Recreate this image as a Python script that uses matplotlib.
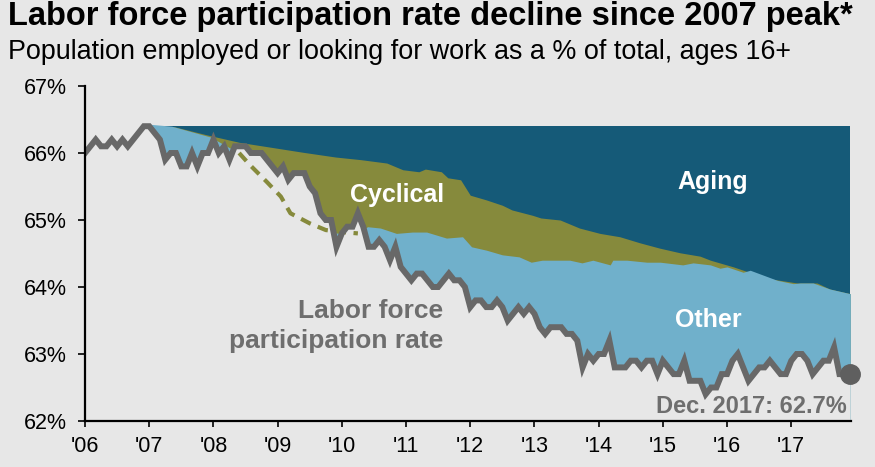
import numpy as np
import matplotlib
matplotlib.use("Agg")
import matplotlib.pyplot as plt

plt.rcParams['font.family'] = ['Liberation Sans', 'DejaVu Sans']

# Monthly labor force participation rate, Jan 2006 - Dec 2017 (%)
lfpr = [
    66.0, 66.1, 66.2, 66.1, 66.1, 66.2, 66.1, 66.2, 66.1, 66.2, 66.3, 66.4,  # 2006
    66.4, 66.3, 66.2, 65.9, 66.0, 66.0, 65.8, 65.8, 66.0, 65.8, 66.0, 66.0,  # 2007
    66.2, 66.0, 66.1, 65.9, 66.1, 66.1, 66.1, 66.0, 66.0, 66.0, 65.9, 65.8,  # 2008
    65.7, 65.8, 65.6, 65.7, 65.7, 65.7, 65.5, 65.4, 65.1, 65.0, 65.0, 64.6,  # 2009
    64.8, 64.9, 64.9, 65.1, 64.9, 64.6, 64.6, 64.7, 64.6, 64.4, 64.6, 64.3,  # 2010
    64.2, 64.1, 64.2, 64.2, 64.1, 64.0, 64.0, 64.1, 64.2, 64.1, 64.1, 64.0,  # 2011
    63.7, 63.8, 63.8, 63.7, 63.7, 63.8, 63.7, 63.5, 63.6, 63.7, 63.6, 63.7,  # 2012
    63.6, 63.4, 63.3, 63.4, 63.4, 63.4, 63.3, 63.3, 63.2, 62.8, 63.0, 62.9,  # 2013
    63.0, 63.0, 63.2, 62.8, 62.8, 62.8, 62.9, 62.9, 62.8, 62.9, 62.9, 62.7,  # 2014
    62.9, 62.8, 62.7, 62.7, 62.9, 62.6, 62.6, 62.6, 62.4, 62.5, 62.5, 62.7,  # 2015
    62.7, 62.9, 63.0, 62.8, 62.6, 62.7, 62.8, 62.8, 62.9, 62.8, 62.7, 62.7,  # 2016
    62.9, 63.0, 63.0, 62.9, 62.7, 62.8, 62.9, 62.9, 63.1, 62.7, 62.7, 62.7,  # 2017
]
start_year = 2006
peak = 66.4

# Rate with only the aging effect removed from the 2007 peak
aging_dates = [2007.0, 2007.4, 2007.9, 2008.4, 2009.0, 2009.4, 2009.9, 2010.3,
               2010.7, 2010.95, 2011.2, 2011.3, 2011.55, 2011.65, 2011.85, 2012.0,
               2012.25, 2012.5, 2012.65, 2012.97, 2013.1, 2013.4, 2013.7, 2014.02,
               2014.33, 2014.64, 2014.95, 2015.27, 2015.58, 2015.74, 2016.1, 2016.62,
               2017.09, 2017.4, 2017.6, 2017.92]
aging = [66.4, 66.39, 66.27, 66.16, 66.07, 66.01, 65.94, 65.9,
         65.85, 65.75, 65.72, 65.76, 65.72, 65.63, 65.6, 65.37,
         65.3, 65.22, 65.15, 65.07, 65.03, 65.0, 64.88, 64.8,
         64.75, 64.66, 64.58, 64.51, 64.46, 64.4, 64.3, 64.13,
         64.06, 64.06, 63.97, 63.9]

# Rate with aging and cyclical effects removed
cyc_dates = [2007.0, 2007.35, 2007.95, 2008.23, 2008.4, 2008.57, 2008.83, 2009.05,
             2009.2, 2009.5, 2009.75, 2010.0, 2010.25, 2010.4, 2010.6, 2010.85,
             2011.1, 2011.32, 2011.63, 2011.88, 2012.02, 2012.25, 2012.5, 2012.76,
             2012.95, 2013.12, 2013.55, 2013.74, 2013.91, 2014.18, 2014.22, 2014.44,
             2014.75, 2014.96, 2015.31, 2015.47, 2015.74, 2015.89, 2016.0, 2016.25,
             2016.36, 2016.78, 2017.03, 2017.14, 2017.34, 2017.6, 2017.92]
cyc = [66.43, 66.4, 66.24, 66.09, 66.0, 65.82, 65.57, 65.35,
       65.1, 64.95, 64.85, 64.82, 64.8, 64.9, 64.88, 64.8,
       64.82, 64.82, 64.73, 64.75, 64.6, 64.55, 64.48, 64.45,
       64.37, 64.4, 64.4, 64.36, 64.4, 64.33, 64.4, 64.4,
       64.37, 64.37, 64.33, 64.36, 64.33, 64.28, 64.3, 64.22,
       64.25, 64.1, 64.05, 64.06, 64.06, 63.97, 63.9]

years = list(range(2006, 2018))
year_labels = ["'%02d" % (y % 100) for y in years]
pct_ticks = [62, 63, 64, 65, 66, 67]

bg = '#e7e7e7'
dark_blue = '#155a78'
olive = '#868a3c'
light_blue = '#70b0cb'
line_gray = '#686868'
label_gray = '#6e6e6e'

dates = start_year + np.arange(len(lfpr)) / 12
aging_dates = np.array(aging_dates)
cyc_dates = np.array(cyc_dates)
cyc = np.array(cyc)

fig = plt.figure(figsize=(8.75, 4.67), dpi=100, facecolor=bg)
ax = fig.add_axes([85 / 875, 1 - 421 / 467, (851 - 85) / 875, (421 - 86) / 467])
ax.set_facecolor(bg)

# stacked layers: each one painted from its line down to the axis floor
ax.fill_between(aging_dates, peak, 62, color=dark_blue, lw=0, zorder=1)
ax.fill_between(aging_dates, aging, 62, color=olive, lw=0, zorder=2)
ax.fill_between(cyc_dates, cyc, 62, color=light_blue, lw=0, zorder=3)
ax.fill_between(dates, lfpr, 62, color=bg, lw=0, zorder=4)

# trend falls below the actual rate during the recession
below = (cyc_dates >= 2008.35) & (cyc_dates <= 2010.3)
ax.plot(cyc_dates[below], cyc[below], color=olive, lw=3, dashes=(2.6, 1.8), zorder=5)

ax.plot(dates, lfpr, color=line_gray, lw=4.3, solid_joinstyle='miter', zorder=6)
ax.plot(dates[-1], lfpr[-1], 'o', color='#5f5f5f', markersize=14, zorder=7, clip_on=False)

ax.set_xlim(2006, 2017.93)
ax.set_ylim(62, 67)
ax.set_xticks(years)
ax.set_xticklabels(year_labels, fontsize=15.5)
ax.set_yticks(pct_ticks)
ax.set_yticklabels(['%d%%' % p for p in pct_ticks], fontsize=15.5)
ax.tick_params(axis='y', direction='out', length=5, width=1.2, color='black', pad=8)
ax.tick_params(axis='x', direction='out', length=4, width=1.2, color='black', pad=7)
for side in ['top', 'right']:
    ax.spines[side].set_visible(False)
for side in ['left', 'bottom']:
    ax.spines[side].set_linewidth(1.6)
    ax.spines[side].set_zorder(8)

ax.text(2015.78, 65.57, 'Aging', color='white', fontsize=18, fontweight='bold',
        ha='center', va='center', zorder=9)
ax.text(2010.86, 65.38, 'Cyclical', color='white', fontsize=18, fontweight='bold',
        ha='center', va='center', zorder=9)
ax.text(2015.70, 63.51, 'Other', color='white', fontsize=18, fontweight='bold',
        ha='center', va='center', zorder=9)
ax.text(2011.58, 63.42, 'Labor force\nparticipation rate', color=label_gray, fontsize=19,
        fontweight='bold', ha='right', va='center', linespacing=1.28, zorder=9)
ax.text(2017.87, 62.21, 'Dec. 2017: 62.7%', color=label_gray, fontsize=17,
        fontweight='bold', ha='right', va='center', zorder=9)

fig.text(8 / 875, 1 - 17 / 467, 'Labor force participation rate decline since 2007 peak*',
         fontsize=23.5, fontweight='bold', ha='left', va='center')
fig.text(8 / 875, 1 - 52 / 467, 'Population employed or looking for work as a % of total, ages 16+',
         fontsize=19.4, ha='left', va='center')

fig.savefig('out.png', dpi=100, facecolor=bg)
